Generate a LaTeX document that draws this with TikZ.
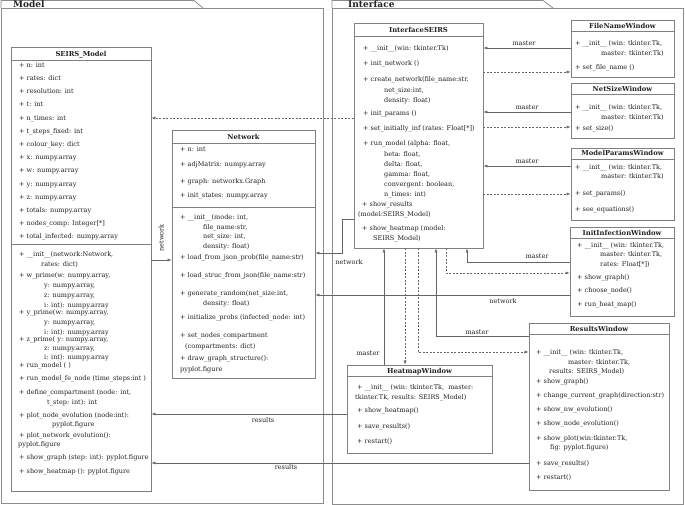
\documentclass[tikz,border=0pt]{standalone}
\usepackage{fontspec}
\setmainfont{DejaVu Serif}
\usetikzlibrary{arrows.meta}
\definecolor{boxc}{HTML}{808080}
\definecolor{linec}{HTML}{666666}
\definecolor{txtc}{HTML}{222222}
\definecolor{pkgc}{HTML}{8C8C8C}
\newcommand{\memfont}{\fontsize{6.5}{8}\selectfont}
\newcommand{\ttlfont}{\fontsize{6.8}{8}\selectfont\bfseries}
\newcommand{\pkgfont}{\fontsize{9}{10}\selectfont\bfseries}
\begin{document}
\begin{tikzpicture}[x=1pt,y=-1pt,
 classbox/.style={draw=boxc, line width=0.8pt, fill=white, inner sep=0pt},
 member/.style={anchor=mid west, inner sep=0pt, font=\memfont, text=txtc},
 ctitle/.style={anchor=mid, inner sep=0pt, font=\ttlfont, text=txtc},
 pkgtitle/.style={anchor=base west, inner sep=0pt, font=\pkgfont, text=txtc},
 pkgline/.style={draw=pkgc, line width=0.8pt},
 sepline/.style={draw=boxc, line width=0.8pt},
 assoc/.style={draw=linec, line width=0.6pt, -{Latex[length=4pt,width=3pt]}},
 dep/.style={draw=linec, line width=0.6pt, dash pattern=on 2pt off 1.5pt, -{Latex[length=4pt,width=3pt]}},
 clabel/.style={inner sep=0pt, font=\memfont, text=txtc, anchor=mid},
]
\useasboundingbox (0,0) rectangle (685,505);
\fill[white] (0,0) rectangle (685,505);

% packages
\draw[pkgline] (1,8) -- (1,0.5) -- (194,0.5) -- (203,8);
\draw[pkgline] (1,8) rectangle (323,503);
\node[pkgtitle] (pkgModel) at (13,7.4) {Model};
\draw[pkgline] (332,8) -- (332,0.5) -- (543,0.5) -- (553,8);
\draw[pkgline] (332,8) rectangle (683,504);
\node[pkgtitle] (pkgIface) at (348,7.4) {Interface};

% ---------- SEIRS_Model
\node[classbox, minimum width=140pt, minimum height=444pt] (seirs) at (81,269) {};
\node[ctitle] (seirsT) at (81,53.5) {SEIRS\_Model};
\draw[sepline] (seirs.west |- 0,60) -- (seirs.east |- 0,60);
\draw[sepline] (seirs.west |- 0,244) -- (seirs.east |- 0,244);
\foreach \xx/\yy/\txt [count=\i] in {
19/65/{+ n: int},
19/78/{+ rates: dict},
19/91/{+ resolution: int},
19/104/{+ t: int},
19/118/{+ n\_times: int},
19/131/{+ t\_steps\_fixed: int},
19/144/{+ colour\_key: dict},
19/157/{+ x: numpy.array},
19/170/{+ w: numpy.array},
19/184/{+ y: numpy.array},
19/197/{+ z: numpy.array},
19/210/{+ totals: numpy.array},
19/223/{+ nodes\_comp: Integer[*]},
19/236/{+ total\_infected: numpy.array},
19/254/{+ \_\_init\_\_(network:Network,},
41/264/{rates: dict)},
19/275/{+ w\_prime(w: numpy.array,},
44/285/{y: numpy.array,},
44/295/{z: numpy.array,},
44/305/{i: int): numpy.array},
19/312/{+ y\_prime(w: numpy.array,},
44/322/{y: numpy.array,},
44/332/{i: int): numpy.array},
19/339/{+ z\_prime( y: numpy.array,},
44/348/{z: numpy.array,},
44/357/{i: int): numpy.array},
19/365/{+ run\_model ( )},
19/378/{+ run\_model\_fe\_node (time\_steps:int )},
19/392/{+ define\_compartment (node: int,},
47/402/{t\_step: int): int},
19/415/{+ plot\_node\_evolution (node:int):},
52/424/{pyplot.figure},
19/435/{+ plot\_network\_evolution():},
18/444/{pyplot.figure},
19/457/{+ show\_graph (step: int): pyplot.figure},
19/471/{+ show\_heatmap (): pyplot.figure}}
{\node[member] (seirsM\i) at (\xx,\yy) {\txt};}

% ---------- Network
\node[classbox, minimum width=143pt, minimum height=248pt] (network) at (243.5,254) {};
\node[ctitle] (networkT) at (243.5,136.5) {Network};
\draw[sepline] (network.west |- 0,143) -- (network.east |- 0,143);
\draw[sepline] (network.west |- 0,207) -- (network.east |- 0,207);
\foreach \xx/\yy/\txt [count=\i] in {
180/149/{+ n: int},
180/164/{+ adjMatrix: numpy.array},
180/181/{+ graph: networkx.Graph},
180/195/{+ init\_states: numpy.array},
180/217/{+ \_\_init\_\_(mode: int,},
203/227/{file\_name:str,},
203/236/{net\_size: int,},
203/246/{density: float)},
180/257/{+ load\_from\_json\_prob(file\_name:str)},
180/275/{+ load\_struc\_from\_json(file\_name:str)},
180/293/{+ generate\_random(net\_size:int,},
203/303/{density: float)},
180/317/{+ initialize\_probs (infected\_node: int)},
180/335/{+ set\_nodes\_compartment},
185/346/{(compartments: dict)},
180/358/{+ draw\_graph\_structure():},
180/369/{pyplot.figure}}
{\node[member] (networkM\i) at (\xx,\yy) {\txt};}

% ---------- InterfaceSEIRS
\node[classbox, minimum width=129pt, minimum height=225pt] (iface) at (418.5,135.5) {};
\node[ctitle] (ifaceT) at (418.5,29.5) {InterfaceSEIRS};
\draw[sepline] (iface.west |- 0,36) -- (iface.east |- 0,36);
\foreach \xx/\yy/\txt [count=\i] in {
363/48/{+ \_\_init\_\_(win: tkinter.Tk)},
363/63/{+ init\_network ()},
363/79/{+ create\_network(file\_name:str,},
384/89.5/{net\_size:int,},
384/100/{density: float)},
363/113/{+ init\_params ()},
363/128/{+ set\_initially\_inf (rates: Float[*])},
363/143/{+ run\_model (alpha: float,},
384/154/{beta: float,},
384/164/{delta: float,},
384/174/{gamma: float,},
384/184/{convergent: boolean,},
384/194/{n\_times: int)},
362/203.5/{+ show\_results},
358/213.5/{(model:SEIRS\_Model)},
362/228/{+ show\_heatmap (model:},
373/238/{SEIRS\_Model)}}
{\node[member] (ifaceM\i) at (\xx,\yy) {\txt};}

% ---------- FileNameWindow
\node[classbox, minimum width=103pt, minimum height=57pt] (fname) at (622.5,48.5) {};
\node[ctitle] (fnameT) at (622.5,25.5) {FileNameWindow};
\draw[sepline] (fname.west |- 0,31) -- (fname.east |- 0,31);
\foreach \xx/\yy/\txt [count=\i] in {
575/43/{+ \_\_init\_\_ (win: tkinter.Tk,},
601/53/{master: tkinter.Tk)},
575/67/{+ set\_file\_name ()}}
{\node[member] (fnameM\i) at (\xx,\yy) {\txt};}

% ---------- NetSizeWindow
\node[classbox, minimum width=103pt, minimum height=55pt] (nsize) at (622.5,110.5) {};
\node[ctitle] (nsizeT) at (622.5,88.5) {NetSizeWindow};
\draw[sepline] (nsize.west |- 0,94) -- (nsize.east |- 0,94);
\foreach \xx/\yy/\txt [count=\i] in {
575/107/{+ \_\_init\_\_ (win: tkinter.Tk,},
601/117/{master: tkinter.Tk)},
575/128/{+ set\_size()}}
{\node[member] (nsizeM\i) at (\xx,\yy) {\txt};}

% ---------- ModelParamsWindow
\node[classbox, minimum width=103pt, minimum height=72pt] (mparams) at (622.5,184) {};
\node[ctitle] (mparamsT) at (622.5,153) {ModelParamsWindow};
\draw[sepline] (mparams.west |- 0,159) -- (mparams.east |- 0,159);
\foreach \xx/\yy/\txt [count=\i] in {
575/167/{+ \_\_init\_\_ (win: tkinter.Tk,},
601/176/{master: tkinter.Tk)},
575/193/{+ set\_params()},
575/209/{+ see\_equations()}}
{\node[member] (mparamsM\i) at (\xx,\yy) {\txt};}

% ---------- InitInfectionWindow
\node[classbox, minimum width=104pt, minimum height=89pt] (initinf) at (622,271.5) {};
\node[ctitle] (initinfT) at (622,232.5) {InitInfectionWindow};
\draw[sepline] (initinf.west |- 0,238) -- (initinf.east |- 0,238);
\foreach \xx/\yy/\txt [count=\i] in {
577/245/{+ \_\_init\_\_ (win: tkinter.Tk,},
600/254/{master: tkinter.Tk,},
600/264/{rates: Float[*])},
577/277/{+ show\_graph()},
577/290/{+ choose\_node()},
577/304/{+ run\_heat\_map()}}
{\node[member] (initinfM\i) at (\xx,\yy) {\txt};}

% ---------- ResultsWindow
\node[classbox, minimum width=140pt, minimum height=167pt] (results) at (599,406.5) {};
\node[ctitle] (resultsT) at (599,328.5) {ResultsWindow};
\draw[sepline] (results.west |- 0,334) -- (results.east |- 0,334);
\foreach \xx/\yy/\txt [count=\i] in {
536/352/{+ \_\_init\_\_ (win: tkinter.Tk,},
568/362/{master: tkinter.Tk,},
549/371/{results: SEIRS\_Model)},
536/381/{+ show\_graph()},
536/395/{+ change\_current\_graph(direction:str)},
536/409/{+ show\_nw\_evolution()},
536/423/{+ show\_node\_evolution()},
536/438/{+ show\_plot(win:tkinter.Tk,},
550/447/{fig: pyplot.figure)},
536/463/{+ save\_results()},
536/477/{+ restart()}}
{\node[member] (resultsM\i) at (\xx,\yy) {\txt};}

% ---------- HeatmapWindow
\node[classbox, minimum width=145pt, minimum height=88pt] (heatmap) at (419.5,409) {};
\node[ctitle] (heatmapT) at (419.5,370.5) {HeatmapWindow};
\draw[sepline] (heatmap.west |- 0,376) -- (heatmap.east |- 0,376);
\foreach \xx/\yy/\txt [count=\i] in {
357/387/{+ \_\_init\_\_ (win: tkinter.Tk,\ \ master:},
355/397/{tkinter.Tk, results: SEIRS\_Model)},
357/410/{+ show\_heatmap()},
357/426/{+ save\_results()},
357/441/{+ restart()}}
{\node[member] (heatmapM\i) at (\xx,\yy) {\txt};}

% ---------- connectors
\draw[dep] (iface.west |- 0,118) -- (seirs.east |- 0,118);

\draw[assoc] (seirs.east |- 0,260) -- (network.west |- 0,260);
\node[clabel, rotate=90] (lnet1) at (161,238) {network};

\draw[assoc] (iface.west |- 0,219) -| (342,253) -- (network.east |- 0,253);
\node[clabel] (lnet2) at (349,262) {network};

\draw[assoc] (initinf.west |- 0,295) -- (network.east |- 0,295);
\node[clabel] (lnet3) at (503,301) {network};

\draw[assoc] (fname.west |- 0,48) -- (iface.east |- 0,48);
\node[clabel] (lm1) at (524,43) {master};
\draw[dep] (iface.east |- 0,72) -- (fname.west |- 0,72);

\draw[assoc] (nsize.west |- 0,112) -- (iface.east |- 0,112);
\node[clabel] (lm2) at (527,107) {master};
\draw[dep] (iface.east |- 0,127) -- (nsize.west |- 0,127);

\draw[assoc] (mparams.west |- 0,166) -- (iface.east |- 0,166);
\node[clabel] (lm3) at (527,161) {master};
\draw[dep] (iface.east |- 0,194) -- (mparams.west |- 0,194);

\draw[dep] (iface.south -| 446,0) |- (initinf.west |- 0,273);
\draw[assoc] (initinf.west |- 0,262) -| (iface.south -| 467,0);
\node[clabel] (lm4) at (537,256) {master};

\draw[dep] (iface.south -| 418,0) |- (results.west |- 0,352);
\draw[assoc] (results.west |- 0,336) -| (iface.south -| 436,0);
\node[clabel] (lm5) at (477,331.5) {master};

\draw[dep] (iface.south -| 405,0) -- (heatmap.north -| 405,0);
\draw[assoc] (heatmap.north -| 384,0) -- (iface.south -| 384,0);
\node[clabel] (lm6) at (368,353) {master};

\draw[assoc] (heatmap.west |- 0,414) -- (seirs.east |- 0,414);
\node[clabel] (lr1) at (263,420) {results};
\draw[assoc] (results.west |- 0,463) -- (seirs.east |- 0,463);
\node[clabel] (lr2) at (286,467) {results};
\end{tikzpicture}
\end{document}
